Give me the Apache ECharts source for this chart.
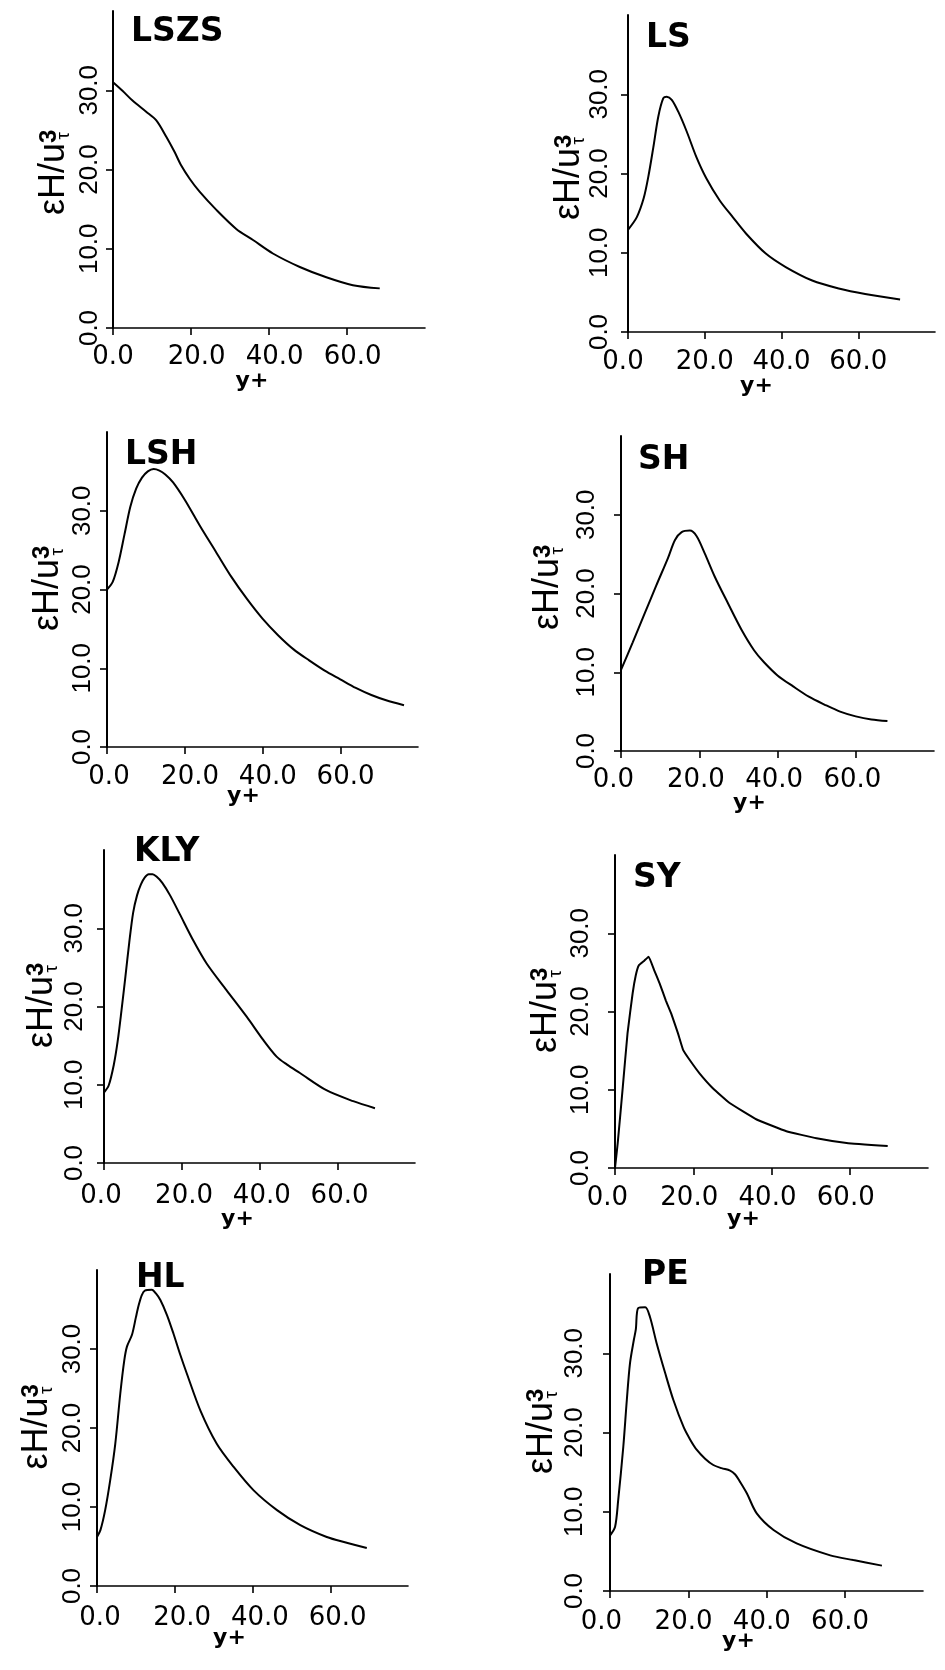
<!DOCTYPE html>
<html>
<head>
<meta charset="utf-8">
<script src="https://cdn.jsdelivr.net/npm/echarts@6/dist/echarts.min.js"></script>
<style>
html,body{margin:0;padding:0;background:#fff;}
#chart{width:945px;height:1670px;}
</style>
</head>
<body>
<div id="chart"></div>
<script>
// ---------------- data ----------------
const panelNames = ['LSZS', 'LS', 'LSH', 'SH', 'KLY', 'SY', 'HL', 'PE'];

const xTickValues = [0, 20, 40, 60];
const xTickLabels = ['0.0', '20.0', '40.0', '60.0'];
const yTickValues = [0, 10, 20, 30];
const yTickLabels = ['0.0', '10.0', '20.0', '30.0'];
const xName = 'y+';
const yNameMain = 'εH/u';
const yNameSup = '3';
const yNameSub = 'τ';

const LSZS = [[0,31.0],[2.5,29.9],[5,28.7],[8.5,27.3],[11.1,26.2],[13.7,24.1],[15.8,22.2],[17.5,20.5],[19.7,18.8],[22.2,17.2],[26.5,14.9],[31.6,12.5],[35.9,11.1],[41,9.4],[47.9,7.7],[54.7,6.4],[61.5,5.4],[68.4,5.0]];
const LS = [[0,12.9],[2.3,14.5],[4.1,16.9],[5.3,19.6],[6.6,23.3],[7.9,27.2],[9.2,29.5],[10.1,29.7],[11.4,29.3],[13.1,27.8],[15.3,25.3],[17.8,22.1],[20.4,19.4],[23.9,16.6],[27.3,14.5],[30.8,12.4],[35.9,9.9],[41.1,8.2],[48,6.5],[54.9,5.5],[61.8,4.8],[70.9,4.1]];
const LSH = [[0,20.0],[1.5,21.0],[3,23.5],[4.5,27.0],[6,30.5],[7.5,32.8],[9,34.2],[10.5,35.0],[12,35.3],[13.5,35.1],[15,34.6],[17,33.6],[20,31.4],[24,28.0],[28,24.8],[32,21.6],[36,18.8],[40,16.3],[44,14.2],[48,12.4],[52,11.0],[56,9.7],[60,8.6],[64,7.5],[68,6.6],[72,5.9],[76.4,5.3]];
const SH = [[0,10.3],[3,13.8],[6,17.4],[9,21.0],[12,24.5],[13.8,26.8],[15.5,27.8],[17.6,28.0],[19.3,27.3],[21.4,25.1],[24,22.1],[27.4,18.7],[30.8,15.4],[34,12.8],[36.5,11.3],[40,9.6],[44,8.2],[48,6.9],[52,5.9],[56,5.0],[60,4.4],[64,4.0],[68.1,3.8]];
const KLY = [[0,9.0],[1.2,9.9],[2.5,12.5],[3.5,15.5],[4.5,19.5],[5.5,23.8],[6.5,28.2],[7.5,32.0],[8.5,34.2],[9.5,35.6],[10.5,36.5],[11.5,36.9],[12.5,36.9],[13.5,36.6],[15,35.8],[17,34.2],[19.5,31.8],[22.9,28.5],[26.4,25.5],[31.5,22.1],[36.7,18.7],[41,15.7],[44.4,13.6],[47,12.6],[50.4,11.5],[57.2,9.3],[64.1,7.9],[69.7,7.0]];
const SY = [[0,0],[0.7,3.2],[2,10.4],[3.2,17.2],[4.5,22.3],[5.3,24.6],[6.1,25.9],[7.5,26.5],[8.6,27.0],[10,25.3],[11.4,23.6],[13,21.4],[14.4,19.7],[16.1,17.2],[17.4,15.1],[19.1,13.8],[21.6,12.1],[25,10.2],[29.3,8.3],[36.2,6.2],[43.8,4.7],[51.5,3.8],[59.2,3.2],[69.7,2.8]];
const HL = [[0,6.2],[0.9,7.1],[2.1,9.6],[3.4,13.4],[4.7,18.0],[6,24.4],[7,28.5],[7.7,30.3],[9,31.8],[10,34.0],[10.7,35.5],[11.5,36.8],[12.3,37.4],[14.1,37.5],[15.2,37.0],[16.3,36.2],[18,34.3],[19.7,31.9],[21.4,29.3],[23.1,26.9],[26.6,22.2],[30.8,18.0],[35.1,15.1],[40.3,12.1],[46.3,9.6],[52.3,7.7],[59.1,6.2],[64,5.5],[69.4,4.8]];
const PE = [[0,7.0],[1.3,8.1],[2.1,11.5],[3.4,18.2],[4.3,24.1],[5.1,28.7],[6.1,31.7],[6.6,33.0],[7.2,35.7],[9.0,35.8],[10.2,34.6],[11.9,31.3],[14.1,27.5],[16.2,24.1],[18.8,20.7],[20.5,19.1],[22.2,17.8],[24.3,16.7],[26.4,15.9],[28.5,15.5],[30.7,15.2],[32,14.7],[33.2,13.8],[35,12.3],[37.5,9.8],[41.8,7.7],[47.7,6.0],[56.3,4.5],[62.2,3.9],[69.5,3.2]];

const panelData = [LSZS, LS, LSH, SH, KLY, SY, HL, PE];

// ---------------- layout (pixels) ----------------
// grid: [left, top, width, height]; title: [left, top]
// xLab: x-label margin; xDz/xDn: horizontal nudge of the "0.0" / other x labels
// xGap/xShift: x-name gap and leftward shift; yLab: y-label margin; yGap/yShift: y-name gap and downward shift
const layout = [
  {grid:[113, 11, 312, 317], title:[131, 16],  xLab:16.5, xDz:0,    xDn:5.7,  xGap:42, xShift:17, yLab:10,   yGap:36.4, yShift:4},
  {grid:[628, 15, 307, 317], title:[646, 22],  xLab:17.5, xDz:-5,   xDn:0,    xGap:43, xShift:25, yLab:15,   yGap:36.4, yShift:5},
  {grid:[107,432, 311, 315], title:[125, 439], xLab:17.5, xDz:2,    xDn:5.3,  xGap:38, xShift:19, yLab:11,   yGap:36.7, yShift:0},
  {grid:[621,436, 313, 315], title:[638, 444], xLab:16.5, xDz:-7.6, xDn:-3.4, xGap:41, xShift:28, yLab:21,   yGap:50.4, yShift:-5},
  {grid:[104,850, 311, 313], title:[134, 836], xLab:20.5, xDz:-3,   xDn:2.3,  xGap:45, xShift:22, yLab:16,   yGap:39.7, yShift:0},
  {grid:[615,855, 313, 313], title:[633, 862], xLab:17.5, xDz:-7.6, xDn:-4,   xGap:40, xShift:28, yLab:21.6, yGap:46.7, yShift:0},
  {grid:[97,1270, 311, 316], title:[136,1262], xLab:19.5, xDz:3,    xDn:7.4,  xGap:41, xShift:23, yLab:11,   yGap:37.7, yShift:0},
  {grid:[610,1274,313, 317], title:[642,1259], xLab:18.5, xDz:-8.7, xDn:-4.7, xGap:39, xShift:28, yLab:22.6, yGap:45.7, yShift:0}
];

const BLACK = '#000';
const hpad = d => d >= 0 ? [0, 0, 0, 2 * d] : [0, -2 * d, 0, 0];
const grids = [], xAxes = [], yAxes = [], series = [], titles = [];

panelNames.forEach((name, i) => {
  const L = layout[i];
  grids.push({left: L.grid[0], top: L.grid[1], width: L.grid[2], height: L.grid[3],
              containLabel: false, outerBoundsMode: 'none'});
  titles.push({text: name, left: L.title[0], top: L.title[1], padding: 0,
               textStyle: {fontFamily: 'DejaVu Sans', fontWeight: 'bold', fontSize: 33, color: BLACK}});
  const xLabFont = {fontFamily: 'DejaVu Sans', fontSize: 26, color: BLACK};
  xAxes.push({
    type: 'value', gridIndex: i, min: 0, max: 80, interval: 20,
    axisLine: {show: true, onZero: false, lineStyle: {color: BLACK, width: 1.6}},
    axisTick: {show: true, inside: false, length: 7, customValues: xTickValues, lineStyle: {color: BLACK, width: 1.6}},
    axisLabel: {show: true, customValues: xTickValues, margin: L.xLab, color: BLACK,
                fontFamily: 'DejaVu Sans', fontSize: 26,
                formatter: v => {
                  const t = xTickLabels[xTickValues.indexOf(v)];
                  return v === 0 ? '{z|' + t + '}' : '{n|' + t + '}';
                },
                rich: {
                  z: Object.assign({padding: hpad(L.xDz)}, xLabFont),
                  n: Object.assign({padding: hpad(L.xDn)}, xLabFont)
                }},
    splitLine: {show: false},
    name: xName, nameLocation: 'middle', nameGap: L.xGap, nameMoveOverlap: false,
    nameTextStyle: {fontFamily: 'DejaVu Sans', fontWeight: 'bold', fontSize: 22, color: BLACK,
                    padding: [0, 2 * L.xShift, 0, 0]}
  });
  yAxes.push({
    type: 'value', gridIndex: i, min: 0, max: 40, interval: 10,
    axisLine: {show: true, onZero: false, lineStyle: {color: BLACK, width: 2}},
    axisTick: {show: true, inside: false, length: 7, customValues: yTickValues, lineStyle: {color: BLACK, width: 1.6}},
    axisLabel: {show: true, customValues: yTickValues, rotate: 90, margin: L.yLab, color: BLACK,
                fontFamily: 'Liberation Sans', fontSize: 26,
                formatter: v => yTickLabels[yTickValues.indexOf(v)]},
    splitLine: {show: false},
    name: '{m|' + yNameMain + '}{s|' + yNameSup + '}{t|' + yNameSub + '}',
    nameLocation: 'middle', nameGap: L.yGap, nameRotate: 90, nameMoveOverlap: false,
    nameTextStyle: {
      color: BLACK,
      padding: L.yShift >= 0 ? [0, 2 * L.yShift, 0, 0] : [0, 0, 0, -2 * L.yShift],
      rich: {
        m: {fontFamily: 'Liberation Sans', fontSize: 36, lineHeight: 45, color: BLACK},
        s: {fontFamily: 'Liberation Sans', fontWeight: 'bold', fontSize: 24, lineHeight: 24, color: BLACK, padding: [0, 0, 10, 0]},
        t: {fontFamily: 'Liberation Sans', fontSize: 19, lineHeight: 19, color: BLACK, padding: [20, 0, 0, -10]}
      }
    }
  });
  series.push({
    type: 'line', xAxisIndex: i, yAxisIndex: i, data: panelData[i],
    showSymbol: false, symbol: 'none', smooth: name === 'SY' ? 0.1 : 0.3,
    lineStyle: {color: BLACK, width: 2}, silent: true, animation: false
  });
});

const chart = echarts.init(document.getElementById('chart'), null, {renderer: 'canvas'});
chart.setOption({
  backgroundColor: '#fff',
  animation: false,
  title: titles,
  grid: grids,
  xAxis: xAxes,
  yAxis: yAxes,
  series: series
});
</script>
</body>
</html>
